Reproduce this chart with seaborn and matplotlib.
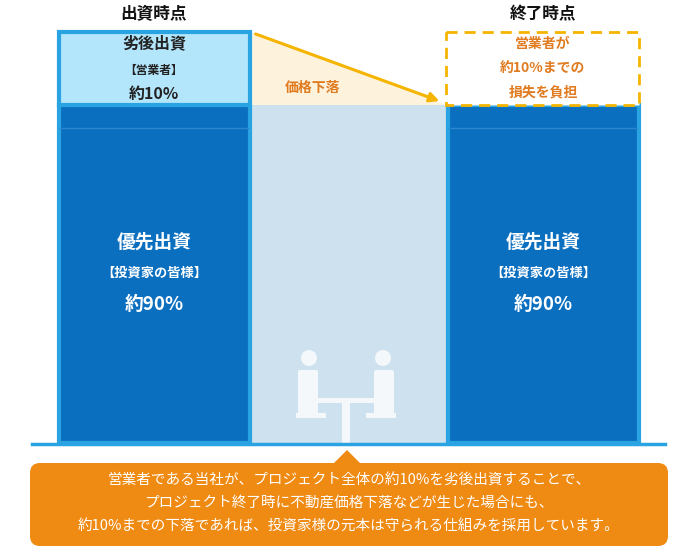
import matplotlib
matplotlib.use("Agg")
import matplotlib.pyplot as plt
import seaborn as sns
import pandas as pd
from matplotlib.patches import Rectangle, FancyBboxPatch, Polygon, Circle

plt.rcParams["font.family"] = "Noto Sans CJK JP"

# data
categories = ["出資時点", "価格下落", "終了時点"]
senior_values = [90, 90, 90]
junior_value = 10
bar_colors = ["#0b6fc0", "#cde1ef", "#0b6fc0"]
senior_label = ["優先出資", "【投資家の皆様】", "約90%"]
junior_label = ["劣後出資", "【営業者】", "約10%"]
loss_label = ["営業者が", "約10%までの", "損失を負担"]
note_lines = ["営業者である当社が、プロジェクト全体の約10%を劣後出資することで、",
              "プロジェクト終了時に不動産価格下落などが生じた場合にも、",
              "約10%までの下落であれば、投資家様の元本は守られる仕組みを採用しています。"]

W, H = 700, 552
fig = plt.figure(figsize=(7, 5.52), dpi=100)
fig.patch.set_facecolor("white")

ax = fig.add_axes([57 / W, (H - 443) / H, (640 - 57) / W, (443 - 105) / H])
df = pd.DataFrame({"cat": categories, "val": senior_values})
sns.barplot(data=df, x="cat", y="val", hue="cat", palette=bar_colors, width=1.0,
            legend=False, ax=ax, linewidth=0, saturation=1)
ax.set_ylim(0, 90)
ax.set_xlim(-0.5, 2.5)
ax.axis("off")

ov = fig.add_axes([0, 0, 1, 1], zorder=5)
ov.set_xlim(0, W); ov.set_ylim(H, 0); ov.axis("off"); ov.patch.set_alpha(0)

blue_edge = "#2aa3e2"
for x0, x1 in [(57, 251), (446, 640)]:
    ov.add_patch(Rectangle((x0 + 1.5, 105), x1 - x0 - 3, 338, fill=False, ec=blue_edge, lw=3))
    ov.plot([x0 + 3, x1 - 3], [128, 128], color="#2a86cf", lw=1)

ov.add_patch(Polygon([(251, 32), (446, 105), (251, 105)], closed=True, fc="#fdf2dc", ec="none"))
ov.annotate("", xy=(442, 102), xytext=(253, 33),
            arrowprops=dict(arrowstyle="-|>", color="#f4b400", lw=2.2, mutation_scale=14))
ov.text(313, 88, "価格下落", color="#e07b20", fontsize=10, ha="center", va="center", weight="bold")

ov.add_patch(Rectangle((58.5, 32), 191, 73, fc="#b3e6fb", ec=blue_edge, lw=3))
for t, y, s in zip(junior_label, [43, 70, 94], [11.5, 8.5, 11.5]):
    ov.text(154, y, t, fontsize=s, ha="center", va="center", color="#222222", weight="bold")

ov.add_patch(Rectangle((446, 32), 193, 73, fc="white", ec="#f4b400", lw=2, ls=(0, (4, 2.5))))
for t, y in zip(loss_label, [44, 68, 92]):
    ov.text(543, y, t, fontsize=10, ha="center", va="center", color="#e07b20", weight="bold")

ov.text(154, 14, categories[0], fontsize=12, ha="center", va="center", color="#111111", weight="bold")
ov.text(543, 14, categories[2], fontsize=12, ha="center", va="center", color="#111111", weight="bold")

for cx in (154, 543):
    ov.text(cx, 242, senior_label[0], fontsize=13.5, ha="center", va="center", color="white", weight="bold")
    ov.text(cx, 273, senior_label[1], fontsize=9.5, ha="center", va="center", color="white", weight="bold")
    ov.text(cx, 305, senior_label[2], fontsize=13.5, ha="center", va="center", color="white", weight="bold")

ic = "#f4f8fb"
ov.add_patch(Circle((309, 358), 8, fc=ic, ec="none"))
ov.add_patch(Circle((383, 358), 8, fc=ic, ec="none"))
ov.add_patch(FancyBboxPatch((300, 372), 16, 40, boxstyle="round,pad=2", fc=ic, ec="none"))
ov.add_patch(FancyBboxPatch((376, 372), 16, 40, boxstyle="round,pad=2", fc=ic, ec="none"))
ov.add_patch(Rectangle((318, 398), 56, 5, fc=ic, ec="none"))
ov.add_patch(Rectangle((342, 403), 8, 40, fc=ic, ec="none"))
ov.add_patch(Rectangle((296, 413), 30, 5, fc=ic, ec="none"))
ov.add_patch(Rectangle((366, 413), 30, 5, fc=ic, ec="none"))

ov.plot([32, 665], [444, 444], color=blue_edge, lw=2.5)

orange = "#ef8a13"
ov.add_patch(FancyBboxPatch((30, 463), 638, 83, boxstyle="round,pad=0,rounding_size=10",
                            fc=orange, ec="none"))
ov.add_patch(Polygon([(333, 464), (347, 450), (361, 464)], closed=True, fc=orange, ec="none"))
for t, y in zip(note_lines, [480, 503, 526]):
    ov.text(349, y, t, fontsize=10.5, ha="center", va="center", color="white")

fig.savefig("out.png", dpi=100)
